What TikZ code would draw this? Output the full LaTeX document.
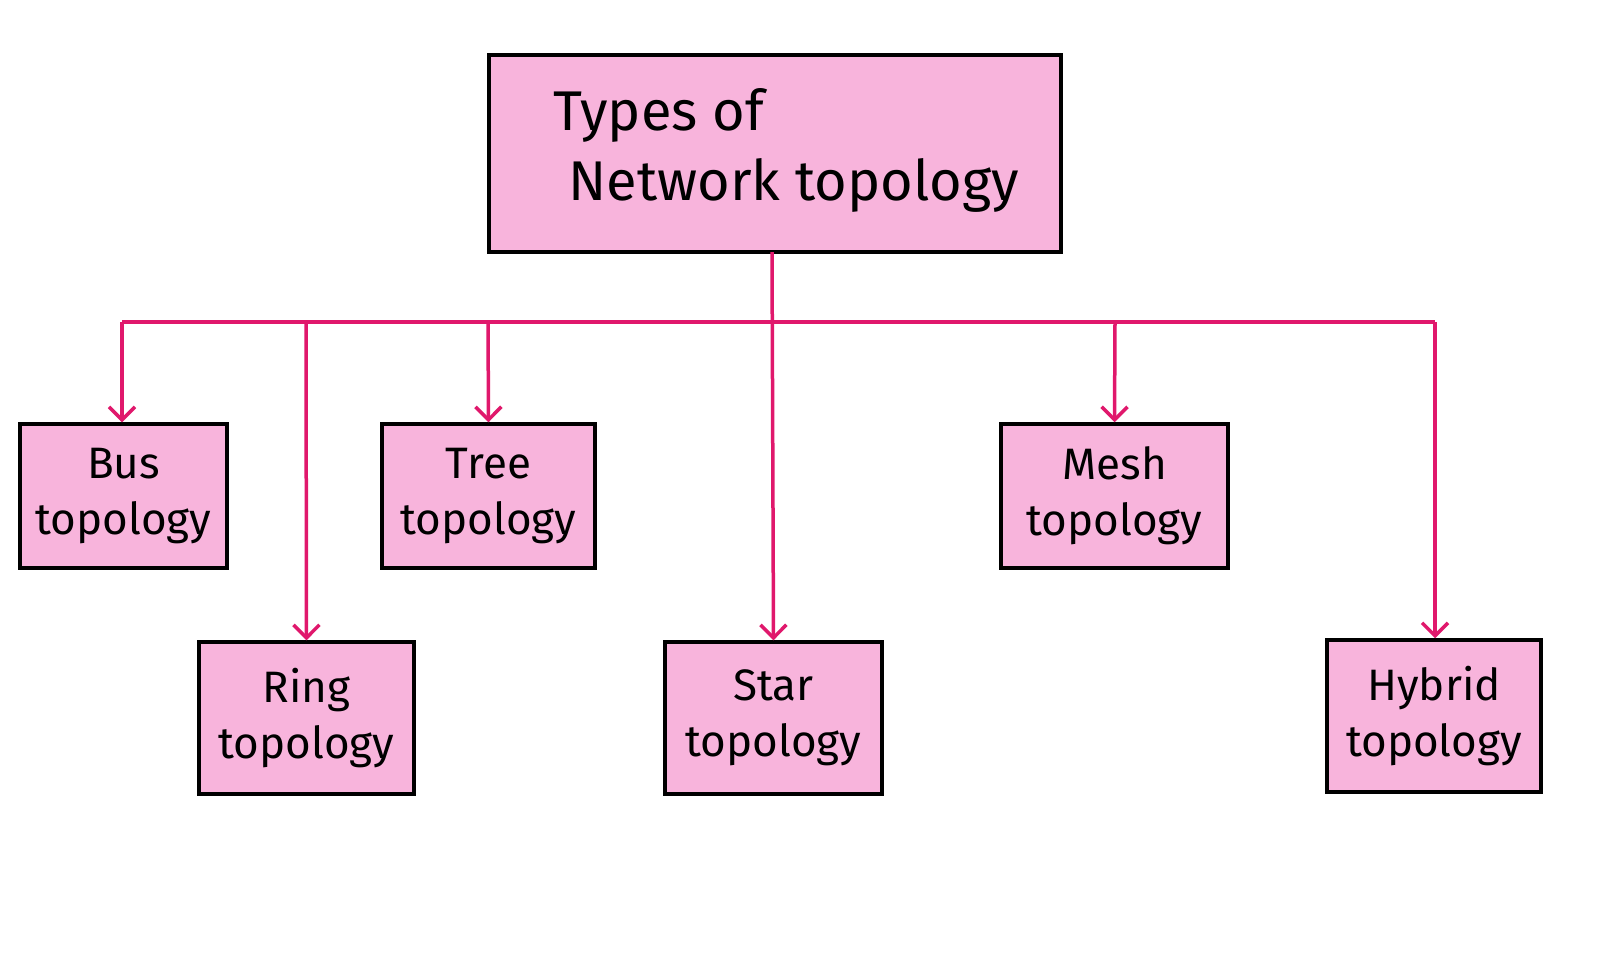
\documentclass[tikz,border=0pt]{standalone}
\usepackage{fontspec}
\setmainfont{Fira Sans}
\usetikzlibrary{arrows.meta}
\definecolor{boxpink}{HTML}{F8B4DC}
\definecolor{linepink}{HTML}{E0186C}
\begin{document}
\begin{tikzpicture}[x=1pt,y=-1pt,
  box/.style={draw=black,line width=3.5pt,fill=boxpink,align=center,font=\fontsize{44}{56}\selectfont,inner sep=0pt},
  conn/.style={draw=linepink,line width=3.5pt},
  arr/.style={conn,-{Straight Barb[length=13pt,width=26pt,line width=3.5pt]}}]
\useasboundingbox[fill=white] (0,0) rectangle (1608,978);
\node[box,minimum width=572pt,minimum height=197pt] (title) at (775,153.5) {};
\node[font=\fontsize{56}{70}\selectfont,align=left,anchor=west] (tt) at (550,150) {Types of\\\hspace*{15pt}Network topology};
\node[box,minimum width=207pt,minimum height=144pt] (bus) at (123.5,496) {Bus\\topology};
\node[box,minimum width=213pt,minimum height=144pt] (tree) at (488.5,496) {Tree\\topology};
\node[box,minimum width=227pt,minimum height=144pt] (mesh) at (1114.5,496) {Mesh\\topology};
\node[box,minimum width=215pt,minimum height=152pt] (ring) at (306.5,718) {Ring\\topology};
\node[box,minimum width=217pt,minimum height=152pt] (star) at (773.5,718) {Star\\topology};
\node[box,minimum width=214pt,minimum height=152pt] (hybrid) at (1434,716) {Hybrid\\topology};
\coordinate (t0) at (772,252);
\coordinate (jL) at (122,322);
\coordinate (jR) at (1435,322);
\draw[conn] (jL) -- (jR);
\draw[arr] (t0) -- (star.north);
\draw[arr] (jL) -- (bus.north -| jL);
\draw[arr] (306,322) -- (ring.north);
\draw[arr] (488,322) -- (tree.north);
\draw[arr] (1115,322) -- (mesh.north);
\draw[arr] (jR) -- (hybrid.north -| jR);
\end{tikzpicture}
\end{document}
